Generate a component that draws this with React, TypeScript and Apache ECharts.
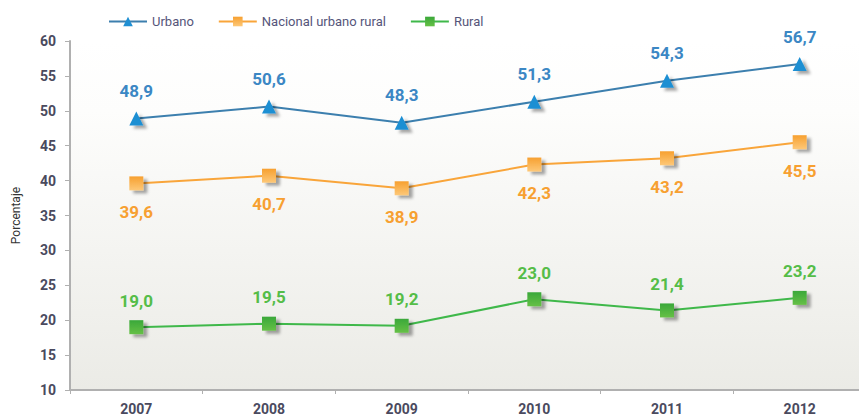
import React, { useEffect, useRef } from "react";
import * as echarts from "echarts";

const years = ["2007", "2008", "2009", "2010", "2011", "2012"];
const urbano = [48.9, 50.6, 48.3, 51.3, 54.3, 56.7];
const nacional = [39.6, 40.7, 38.9, 42.3, 43.2, 45.5];
const rural = [19.0, 19.5, 19.2, 23.0, 21.4, 23.2];

const FONT = "Roboto, 'Liberation Sans', sans-serif";

const fmt = (p: any) => Number(p.value).toFixed(1).replace(".", ",");

const shadow = {
  shadowColor: "rgba(0,0,0,0.35)",
  shadowBlur: 3,
  shadowOffsetX: 4,
  shadowOffsetY: 3,
};

export default function App() {
  const ref = useRef<HTMLDivElement>(null);
  useEffect(() => {
    document.body.style.margin = "0";
    const chart = echarts.init(ref.current!, undefined, { renderer: "svg" });
    const mkSeries = (
      name: string,
      data: number[],
      lineColor: string,
      marker: any,
      symbol: string,
      size: number,
      labelColor: string,
      pos: string,
      dist: number
    ) => ({
      name,
      type: "line",
      data,
      symbol,
      symbolSize: size,
      showAllSymbol: true,
      lineStyle: { color: lineColor, width: 2 },
      itemStyle: { color: marker, borderWidth: 0, ...shadow },
      label: {
        show: true,
        position: pos,
        distance: dist,
        formatter: fmt,
        color: labelColor,
        fontSize: 17,
        fontWeight: "bold",
        fontFamily: FONT,
      },
    });
    chart.setOption({
      animation: false,
      legend: {
        top: 10,
        left: 103,
        itemWidth: 38,
        itemHeight: 12,
        itemGap: 24,
        textStyle: { color: "#55557a", fontSize: 13, fontFamily: FONT },
        data: ["Urbano", "Nacional urbano rural", "Rural"],
      },
      grid: {
        left: 70,
        top: 41,
        bottom: 24,
        right: 4,
        show: true,
        borderWidth: 0,
        backgroundColor: new echarts.graphic.LinearGradient(0, 0, 0, 1, [
          { offset: 0, color: "#ffffff" },
          { offset: 0.2, color: "#fdfdfc" },
          { offset: 1, color: "#ebebe6" },
        ]),
      },
      xAxis: {
        type: "category",
        data: years,
        boundaryGap: true,
        axisLine: { lineStyle: { color: "#b0b0b0", width: 2 } },
        axisTick: { show: true, length: 4, lineStyle: { color: "#b0b0b0" } },
        axisLabel: { color: "#4a4a5e", fontSize: 14, fontWeight: "bold", fontFamily: FONT, margin: 12 },
      },
      yAxis: {
        type: "value",
        min: 10,
        max: 60,
        interval: 5,
        name: "Porcentaje",
        nameLocation: "middle",
        nameGap: 48,
        nameTextStyle: { color: "#333", fontSize: 12, fontFamily: FONT },
        axisLine: { show: true, lineStyle: { color: "#b0b0b0", width: 2 } },
        axisTick: { show: true, length: 5, lineStyle: { color: "#b0b0b0" } },
        splitLine: { show: false },
        axisLabel: { color: "#4a4a5e", fontSize: 14, fontWeight: "bold", fontFamily: FONT, margin: 14 },
      },
      series: [
        mkSeries("Urbano", urbano, "#3c7fae", "#1f8fd3", "triangle", 14, "#3b87c4", "top", 12),
        mkSeries(
          "Nacional urbano rural",
          nacional,
          "#f9a53a",
          new echarts.graphic.LinearGradient(0, 0, 0, 1, [
            { offset: 0, color: "#f7a030" },
            { offset: 1, color: "#fdc878" },
          ]),
          "rect",
          14,
          "#f7a031",
          "bottom",
          13
        ),
        mkSeries(
          "Rural",
          rural,
          "#3fb84a",
          new echarts.graphic.LinearGradient(0, 0, 0, 1, [
            { offset: 0, color: "#3aa83a" },
            { offset: 1, color: "#66c046" },
          ]),
          "rect",
          14,
          "#55bd48",
          "top",
          11
        ),
      ],
    });
    return () => chart.dispose();
  }, []);
  return (
    <div style={{ width: 859, height: 416, overflow: "hidden", position: "relative" }}>
      <div ref={ref} style={{ width: 870, height: 416 }} />
    </div>
  );
}
